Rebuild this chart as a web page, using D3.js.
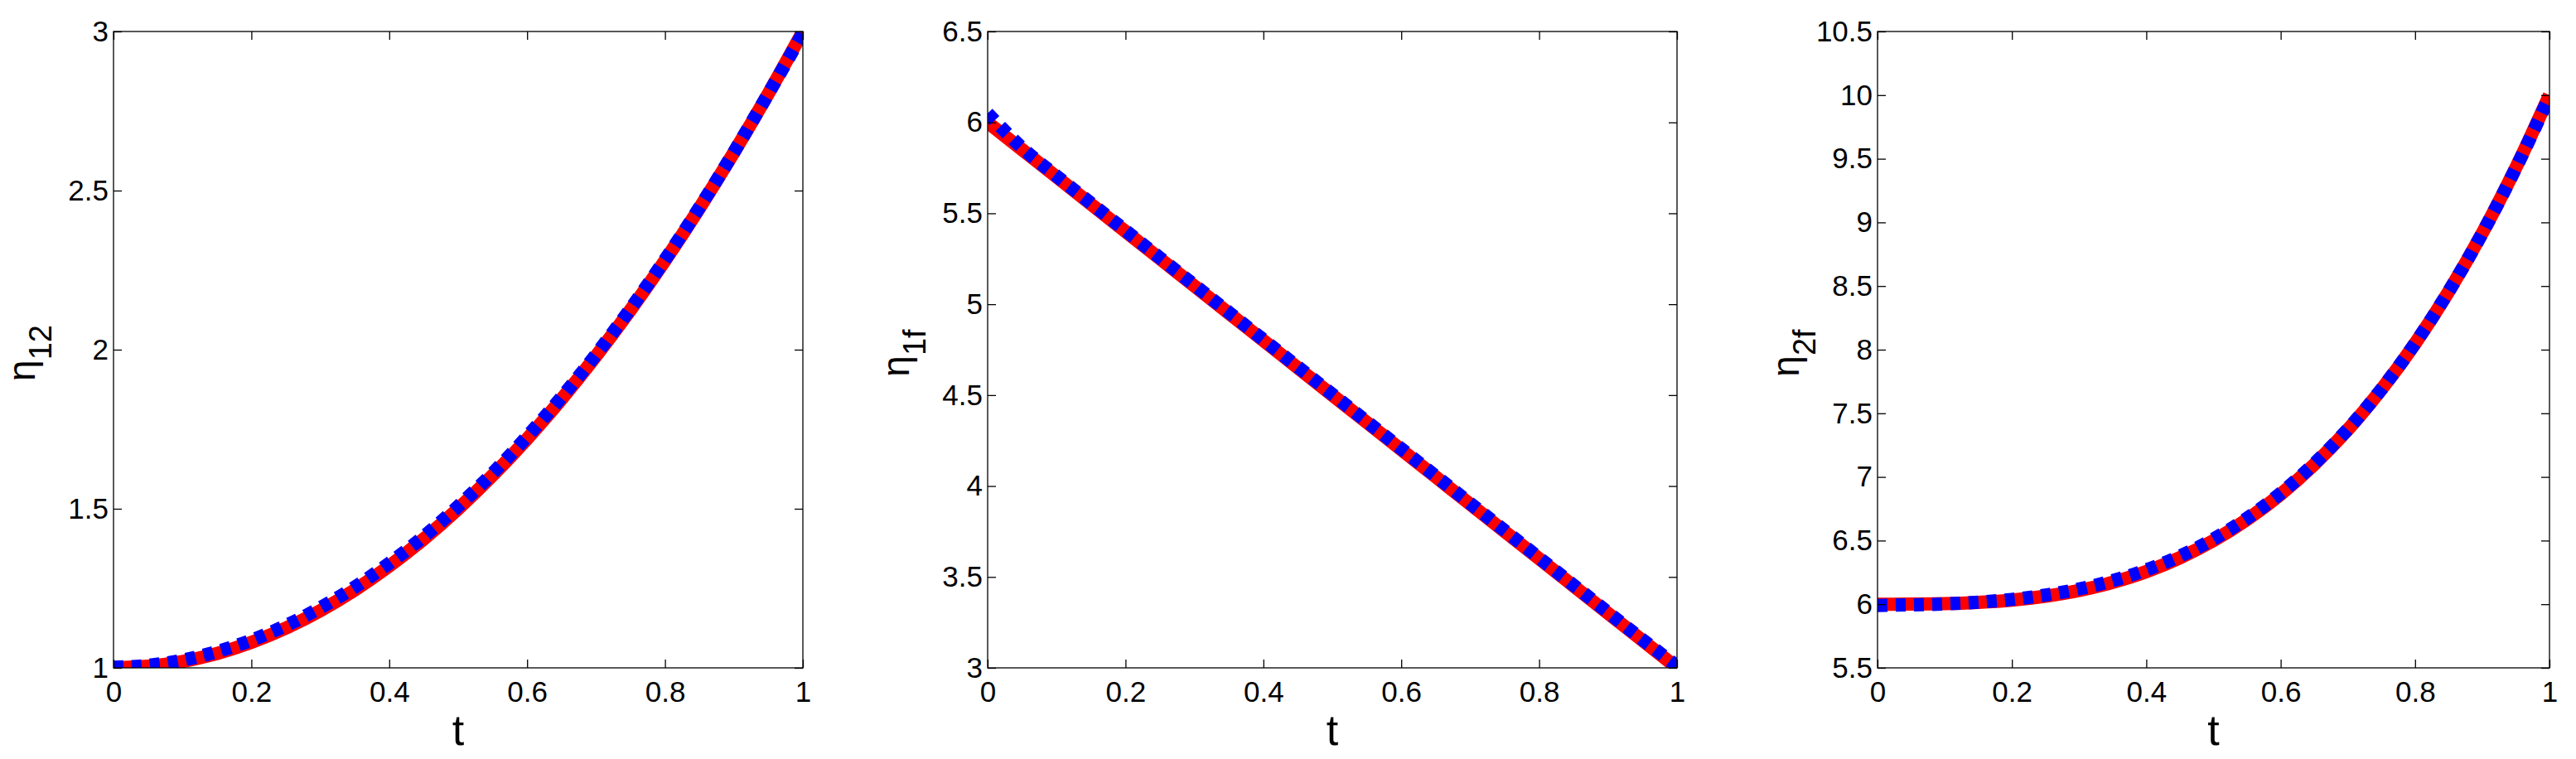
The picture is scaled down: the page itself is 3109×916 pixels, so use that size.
<!DOCTYPE html>
<html>
<head>
<meta charset="utf-8">
<script src="https://cdn.jsdelivr.net/npm/d3@7"></script>
<style>
  body { margin: 0; background: #fff; }
  svg { display: block; }
</style>
</head>
<body>
<svg id="chart"></svg>
<script>
// values
const tValues = [0, 0.05, 0.1, 0.15, 0.2, 0.25, 0.3, 0.35, 0.4, 0.45, 0.5,
  0.55, 0.6, 0.65, 0.7, 0.75, 0.8, 0.85, 0.9, 0.95, 1];

const eta12Exact = [1, 1.005, 1.02, 1.045, 1.08, 1.125, 1.18, 1.245, 1.32, 1.405, 1.5,
  1.605, 1.72, 1.845, 1.98, 2.125, 2.28, 2.445, 2.62, 2.805, 3];
const eta12Approx = [1.002, 1.008, 1.024, 1.051, 1.087, 1.133, 1.189, 1.254, 1.329, 1.413, 1.508,
  1.612, 1.727, 1.851, 1.985, 2.129, 2.283, 2.447, 2.621, 2.805, 2.995];

const eta1fExact = [6, 5.85, 5.7, 5.55, 5.4, 5.25, 5.1, 4.95, 4.8, 4.65, 4.5,
  4.35, 4.2, 4.05, 3.9, 3.75, 3.6, 3.45, 3.3, 3.15, 3];
const eta1fApprox = [6.05, 5.86, 5.705, 5.555, 5.405, 5.255, 5.105, 4.955, 4.805, 4.655, 4.505,
  4.355, 4.205, 4.055, 3.905, 3.755, 3.605, 3.455, 3.305, 3.155, 3.01];

const eta2fExact = [6, 6.001, 6.004, 6.014, 6.032, 6.063, 6.108, 6.172, 6.256, 6.365, 6.5,
  6.666, 6.864, 7.099, 7.372, 7.688, 8.048, 8.457, 8.916, 9.43, 10];
const eta2fApprox = [5.99, 5.995, 6.002, 6.016, 6.038, 6.072, 6.12, 6.185, 6.27, 6.378, 6.512,
  6.676, 6.872, 7.105, 7.376, 7.69, 8.05, 8.458, 8.915, 9.428, 9.99];

const xTicks = [0, 0.2, 0.4, 0.6, 0.8, 1];
const yTicks12 = [1, 1.5, 2, 2.5, 3];
const yTicks1f = [3, 3.5, 4, 4.5, 5, 5.5, 6, 6.5];
const yTicks2f = [5.5, 6, 6.5, 7, 7.5, 8, 8.5, 9, 9.5, 10, 10.5];

const panels = [
  { sub: '12', exact: eta12Exact, approx: eta12Approx, yTicks: yTicks12, left: 137, right: 969 },
  { sub: '1f', exact: eta1fExact, approx: eta1fApprox, yTicks: yTicks1f, left: 1192, right: 2024 },
  { sub: '2f', exact: eta2fExact, approx: eta2fApprox, yTicks: yTicks2f, left: 2266, right: 3077 }
];

const width = 3109, height = 916;
const plotTop = 38, plotBottom = 806;
const font = '"Liberation Sans", Arial, Helvetica, sans-serif';

const svg = d3.select('#chart')
  .attr('width', width)
  .attr('height', height);

panels.forEach(function(p, i) {
  const x = d3.scaleLinear().domain([0, 1]).range([p.left, p.right]);
  const y = d3.scaleLinear()
    .domain([p.yTicks[0], p.yTicks[p.yTicks.length - 1]])
    .range([plotBottom, plotTop]);

  svg.append('clipPath')
    .attr('id', 'clip' + i)
    .append('rect')
    .attr('x', p.left)
    .attr('y', plotTop)
    .attr('width', p.right - p.left)
    .attr('height', plotBottom - plotTop);

  const line = d3.line()
    .x((d, k) => x(tValues[k]))
    .y(d => y(d))
    .curve(d3.curveMonotoneX);

  const plot = svg.append('g').attr('clip-path', `url(#clip${i})`);
  plot.append('path')
    .attr('d', line(p.exact))
    .attr('fill', 'none')
    .attr('stroke', '#ff0000')
    .attr('stroke-width', 16);
  plot.append('path')
    .attr('d', line(p.approx))
    .attr('fill', 'none')
    .attr('stroke', '#0000ff')
    .attr('stroke-width', 16)
    .attr('stroke-dasharray', '12,10');

  // axes, ticks pointing inward on all four sides
  const fmt = d => String(d);
  const gx = svg.append('g')
    .attr('transform', `translate(0,${plotBottom})`)
    .call(d3.axisBottom(x).tickValues(xTicks).tickFormat(fmt)
      .tickSizeInner(-10).tickSizeOuter(0).tickPadding(16));
  const gy = svg.append('g')
    .attr('transform', `translate(${p.left},0)`)
    .call(d3.axisLeft(y).tickValues(p.yTicks).tickFormat(fmt)
      .tickSizeInner(-10).tickSizeOuter(0).tickPadding(6));
  svg.append('g')
    .attr('transform', `translate(0,${plotTop})`)
    .call(d3.axisTop(x).tickValues(xTicks).tickFormat('')
      .tickSizeInner(-10).tickSizeOuter(0));
  svg.append('g')
    .attr('transform', `translate(${p.right},0)`)
    .call(d3.axisRight(y).tickValues(p.yTicks).tickFormat('')
      .tickSizeInner(-10).tickSizeOuter(0));

  svg.selectAll('.domain').remove();
  svg.selectAll('.tick line').attr('stroke', '#000').attr('stroke-width', 1.3);
  [gx, gy].forEach(g => g.selectAll('text')
    .attr('font-family', font)
    .attr('font-size', 35)
    .attr('fill', '#000'));

  svg.append('rect')
    .attr('x', p.left)
    .attr('y', plotTop)
    .attr('width', p.right - p.left)
    .attr('height', plotBottom - plotTop)
    .attr('fill', 'none')
    .attr('stroke', '#000')
    .attr('stroke-width', 1.3);

  // axis labels
  svg.append('text')
    .attr('x', (p.left + p.right) / 2)
    .attr('y', 899)
    .attr('text-anchor', 'middle')
    .attr('font-family', font)
    .attr('font-size', 52)
    .text('t');

  const yl = svg.append('text')
    .attr('transform', `translate(${p.left - 95},${(plotTop + plotBottom) / 2 + 4}) rotate(-90)`)
    .attr('text-anchor', 'middle')
    .attr('font-family', font);
  yl.append('tspan').attr('font-size', 46).text('η');
  yl.append('tspan').attr('font-size', 38).attr('dy', 20).text(p.sub);
});
</script>
</body>
</html>
